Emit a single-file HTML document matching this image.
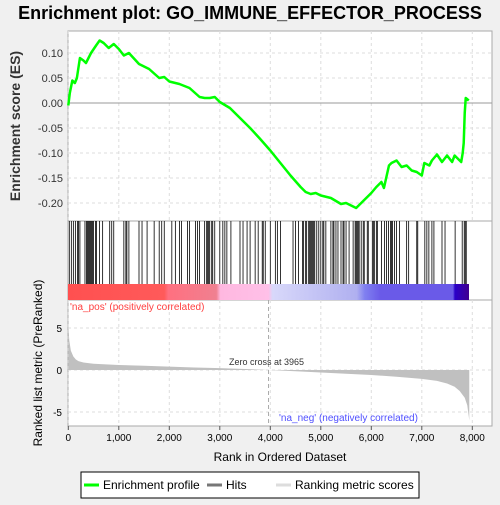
<!DOCTYPE html>
<html><head><meta charset="utf-8"><style>
body{margin:0;background:#f0f0f0;font-family:"Liberation Sans",sans-serif;}
</style></head><body>
<svg id="c" width="500" height="500" xmlns="http://www.w3.org/2000/svg">
<rect width="500" height="500" fill="#f0f0f0"/>
<text x="250" y="19" text-anchor="middle" font-size="18" font-weight="bold" fill="#000">Enrichment plot: GO_IMMUNE_EFFECTOR_PROCESS</text>
<rect x="68" y="31" width="424" height="190" fill="#fff" stroke="#aaa"/>
<rect x="68" y="221" width="424" height="79" fill="#fff" stroke="#aaa"/>
<rect x="68" y="300" width="424" height="126" fill="#fff" stroke="#aaa"/>
<defs><linearGradient id="cb" x1="0" x2="1">
<stop offset="0" stop-color="#ff5050"/><stop offset="0.24" stop-color="#ff5a5a"/><stop offset="0.25" stop-color="#ff7080"/><stop offset="0.37" stop-color="#f08090"/><stop offset="0.38" stop-color="#ffb8e0"/><stop offset="0.5" stop-color="#ffc0e8"/><stop offset="0.51" stop-color="#d8d8fa"/><stop offset="0.72" stop-color="#b0b0f0"/><stop offset="0.74" stop-color="#8080f0"/><stop offset="0.78" stop-color="#6a5ae8"/><stop offset="0.96" stop-color="#6a5ae8"/><stop offset="0.965" stop-color="#2a00c8"/><stop offset="1" stop-color="#400090"/>
</linearGradient></defs>
<rect x="68" y="284" width="401" height="16" fill="url(#cb)"/>
<g id="grid"></g><g id="hits"></g><g id="metric"></g><g id="es"></g><g id="axes"></g>
<text x="70" y="310" font-size="10" fill="#ff4040">'na_pos' (positively correlated)</text>
<text x="279" y="421" font-size="10" fill="#5050ff">'na_neg' (negatively correlated)</text>
<text x="229" y="365" font-size="9" fill="#333">Zero cross at 3965</text>
<text x="20" y="126" font-size="14" font-weight="bold" fill="#333" text-anchor="middle" transform="rotate(-90 20 126)">Enrichment score (ES)</text>
<text x="42" y="363" font-size="12" fill="#000" text-anchor="middle" transform="rotate(-90 42 363)">Ranked list metric (PreRanked)</text>
<text x="280" y="461" font-size="12" text-anchor="middle" fill="#000">Rank in Ordered Dataset</text>
<g>
<rect x="81" y="472" width="338" height="26" fill="#fff" stroke="#000"/>
<line x1="84" y1="485" x2="99" y2="485" stroke="#00ff00" stroke-width="3"/>
<text x="103" y="489" font-size="12">Enrichment profile</text>
<line x1="207" y1="485" x2="222" y2="485" stroke="#777" stroke-width="3"/>
<text x="226" y="489" font-size="12">Hits</text>
<line x1="276" y1="485" x2="291" y2="485" stroke="#ddd" stroke-width="3"/>
<text x="295" y="489" font-size="12">Ranking metric scores</text>
</g>
</svg>
<script>
const esRanks=[0,30,80,130,170,230,300,350,450,550,620,700,800,900,1000,1100,1200,1400,1600,1800,1900,2000,2200,2400,2600,2700,2800,2900,3000,3200,3400,3600,3800,4000,4200,4400,4600,4700,4800,4900,5000,5200,5400,5500,5600,5700,5750,5800,5900,6000,6100,6200,6250,6350,6400,6500,6600,6700,6800,6900,7000,7050,7150,7200,7300,7400,7500,7600,7650,7780,7810,7830,7850,7870,7930];
const esValues=[-0.005,0.02,0.045,0.04,0.05,0.09,0.085,0.08,0.1,0.115,0.125,0.12,0.11,0.118,0.108,0.095,0.1,0.078,0.068,0.05,0.052,0.043,0.038,0.03,0.012,0.01,0.01,0.012,0.002,-0.01,-0.03,-0.05,-0.072,-0.095,-0.12,-0.145,-0.168,-0.178,-0.182,-0.18,-0.185,-0.19,-0.202,-0.2,-0.205,-0.21,-0.205,-0.2,-0.19,-0.18,-0.168,-0.158,-0.17,-0.125,-0.12,-0.115,-0.128,-0.125,-0.135,-0.138,-0.145,-0.12,-0.125,-0.115,-0.103,-0.118,-0.105,-0.118,-0.105,-0.118,-0.1,-0.08,-0.02,0.01,0.005];
const hitRanks=[20,60,100,140,180,200,230,330,360,380,400,420,440,460,480,500,540,560,620,680,820,860,900,1100,1140,1160,1200,1400,1460,1560,1700,1800,1850,1900,2050,2120,2200,2240,2360,2400,2520,2560,2600,2700,2740,2760,2780,2800,2840,2860,2900,3000,3060,3100,3140,3220,3400,3460,3540,3600,3700,3760,3840,3860,3900,4000,4100,4140,4200,4450,4500,4560,4640,4660,4700,4720,4760,4780,4800,4820,4840,4860,4880,4920,4960,5000,5040,5060,5100,5200,5240,5260,5300,5340,5400,5440,5460,5500,5560,5640,5680,5700,5720,5740,5760,5800,5840,5860,5920,5940,6020,6040,6060,6100,6120,6200,6260,6300,6340,6380,6400,6420,6460,6500,6560,6700,6740,6900,6920,7060,7100,7140,7200,7240,7400,7460,7660,7800,7840,7860,7880];
const metricRanks=[0,20,50,100,150,200,300,500,1000,1500,2000,2500,3000,3500,3965,4500,5000,5500,6000,6500,7000,7300,7500,7650,7750,7850,7900,7930,7940];
const metricValues=[5.2,3.5,2.3,1.6,1.25,1.05,0.9,0.75,0.6,0.5,0.4,0.3,0.22,0.12,0,-0.15,-0.3,-0.45,-0.6,-0.8,-1.05,-1.3,-1.6,-2.0,-2.5,-3.3,-4.2,-5.5,-6.0];
const xTicks=[0,1000,2000,3000,4000,5000,6000,7000,8000];
const esTicks=[0.10,0.05,0.00,-0.05,-0.10,-0.15,-0.20];
const metricTicks=[5,0,-5];
const NS='http://www.w3.org/2000/svg';
const X=r=>68.3+r*0.0505, YE=v=>103-v*500, YM=v=>370-v*8.4;
function mk(g,t,a){const e=document.createElementNS(NS,t);for(const k in a)e.setAttribute(k,a[k]);document.getElementById(g).appendChild(e);return e;}
xTicks.forEach(t=>{
 let l=mk('grid','line',{x1:X(t),x2:X(t),y1:31,y2:221,stroke:'#ddd','stroke-dasharray':'3,3'});
 
 l=mk('grid','line',{x1:X(t),x2:X(t),y1:300,y2:426,stroke:'#ddd','stroke-dasharray':'3,3'});
 
 l=mk('axes','line',{x1:X(t),x2:X(t),y1:426,y2:430,stroke:'#555'});
 
 const tx=mk('axes','text',{x:X(t),y:441,'font-size':10,'text-anchor':'middle'});tx.textContent=t.toLocaleString('en-US');
 
});
esTicks.forEach(t=>{
 const l=mk('grid','line',{x1:68,x2:492,y1:YE(t),y2:YE(t),stroke:t===0?'#999':'#ddd','stroke-dasharray':t===0?'':'3,3'});
 
 const tx=mk('axes','text',{x:63,y:YE(t)+4,'font-size':11,'text-anchor':'end',fill:'#333'});tx.textContent=t.toFixed(2);
 
});
metricTicks.forEach(t=>{
 const l=mk('grid','line',{x1:68,x2:492,y1:YM(t),y2:YM(t),stroke:'#ddd','stroke-dasharray':'3,3'});
 
 const tx=mk('axes','text',{x:62,y:YM(t)+4,'font-size':10,'text-anchor':'end'});tx.textContent=t;
 
});
hitRanks.forEach(r=>{
 const l=mk('hits','line',{x1:X(r),x2:X(r),y1:221,y2:284,stroke:'#000','stroke-width':0.8});
 
});
let d='M'+X(0)+','+YM(0);
metricRanks.forEach((r,i)=>{d+=' L'+X(r)+','+YM(metricValues[i]);});
d+=' L'+X(metricRanks[metricRanks.length-1])+','+YM(0)+' Z';
const ar=mk('metric','path',{d:d,fill:'#c0c0c0'});

const zl=mk('metric','line',{x1:X(3965),x2:X(3965),y1:300,y2:426,stroke:'#aaa','stroke-dasharray':'4,3'});

const pts=esRanks.map((r,i)=>X(r)+','+YE(esValues[i])).join(' ');
const pl=mk('es','polyline',{points:pts,fill:'none',stroke:'#00ff00','stroke-width':2.5,'stroke-linejoin':'round'});

</script>
</body></html>
